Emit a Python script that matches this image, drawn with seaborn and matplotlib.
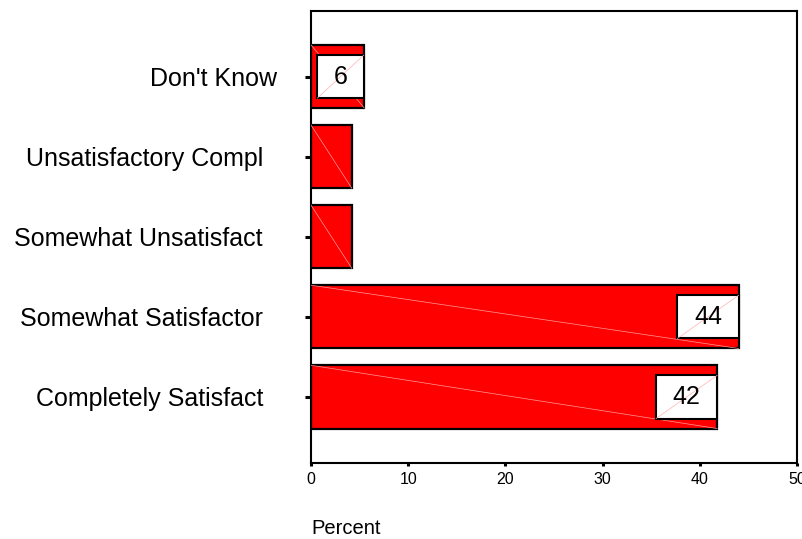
import matplotlib
matplotlib.use("Agg")
import matplotlib.pyplot as plt
import matplotlib.patches as mpatches
import pandas as pd
import seaborn as sns

# data, top to bottom as drawn
categories = ["Don't Know", "Unsatisfactory Compl", "Somewhat Unsatisfact",
              "Somewhat Satisfactor", "Completely Satisfact"]
tick_labels = ["Don't Know", "Unsatisfactory Compl  ", "Somewhat Unsatisfact  ",
               "Somewhat Satisfactor  ", "Completely Satisfact  "]
percent = [5.5, 4.2, 4.2, 44.0, 41.8]
value_labels = ["6", "", "", "44", "42"]

sns.set_style("white")
plt.rcParams["font.family"] = ["Liberation Sans", "DejaVu Sans"]
plt.rcParams.update({"text.color": "black", "axes.labelcolor": "black",
                     "xtick.color": "black", "ytick.color": "black"})

df = pd.DataFrame({"category": categories, "percent": percent})

fig = plt.figure(figsize=(8.03, 5.39), dpi=100)
ax = fig.add_axes([0.3873, 0.141, 0.6052, 0.8377])

sns.barplot(data=df, x="percent", y="category", order=categories,
            color="#ff0000", saturation=1, width=0.79,
            edgecolor="black", linewidth=1.6, ax=ax)

# faint diagonal lines across the bars (rendering artefact in the original)
for p in ax.patches:
    x0, y0 = p.get_x(), p.get_y()
    ax.plot([x0, x0 + p.get_width()], [y0, y0 + p.get_height()],
            color="#ff9a9a", lw=0.5, zorder=3)

# value boxes at the bar ends
box_w, box_h = 6.3, 0.54
for i, (v, lab) in enumerate(zip(percent, value_labels)):
    if not lab:
        continue
    w = box_w if len(lab) > 1 else 4.8
    x0 = v - w - 0.05 if len(lab) == 1 else v - w
    rect = mpatches.Rectangle((x0, i - box_h / 2), w, box_h, facecolor="white",
                              edgecolor="black", lw=1.5, zorder=4)
    ax.add_patch(rect)
    ax.plot([x0, x0 + w], [i + box_h / 2, i - box_h / 2],
            color="#ffb0b0", lw=0.5, zorder=5)
    ax.text(x0 + w / 2, i, lab, ha="center", va="center", fontsize=18,
            color="black", zorder=6)

ax.set_xlim(0, 50)
ax.set_ylim(4.825, -0.8125)
ax.set_xticks([0, 10, 20, 30, 40, 50])
ax.set_yticks(range(len(categories)))
ax.set_yticklabels(tick_labels, fontsize=18)
ax.tick_params(axis="y", length=4.5, width=2.2, pad=20, color="black", left=True)
ax.tick_params(axis="x", length=2.5, width=2.2, pad=4, labelsize=11.5,
               color="black", bottom=True)
ax.set_ylabel("")
ax.set_xlabel("Percent", fontsize=14.5, loc="left", labelpad=23)
for s in ax.spines.values():
    s.set_visible(True)
    s.set_color("black")
    s.set_linewidth(1.5)

fig.savefig("out.png", dpi=100)
